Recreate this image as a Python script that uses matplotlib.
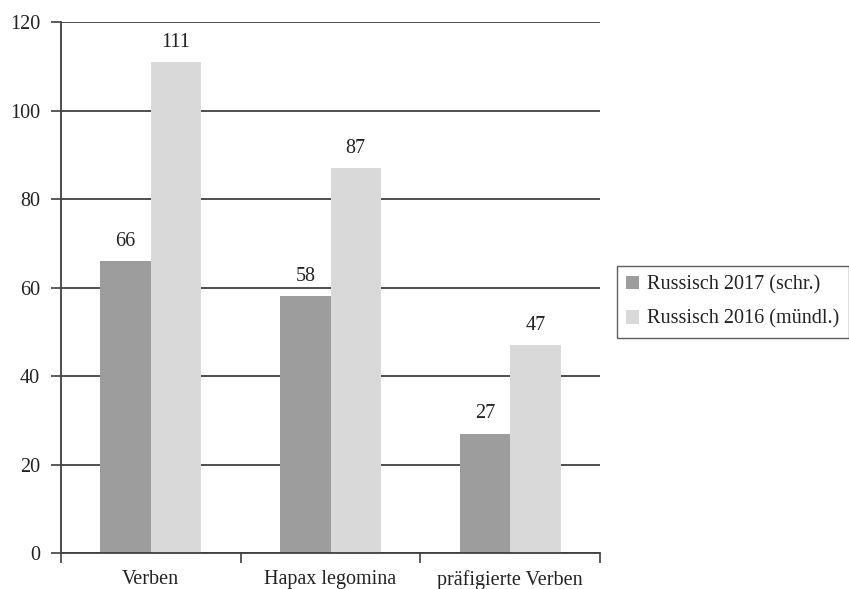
import numpy as np
import matplotlib.pyplot as plt

plt.rcParams['font.family'] = ['Liberation Serif', 'DejaVu Serif']

categories = ['Verben', 'Hapax legomina', 'präfigierte Verben']
series_names = ['Russisch 2017 (schr.)', 'Russisch 2016 (mündl.)']
russisch_2017 = [66, 58, 27]
russisch_2016 = [111, 87, 47]
colors = ['#9d9d9d', '#d9d9d9']

fs = 14.5
txt_c = '#222222'
grid_c = '#404040'

fig = plt.figure(figsize=(8.49, 5.89), dpi=100)
ax = fig.add_axes([0.0718, 0.0611, 0.635, 0.9015])

x = np.arange(len(categories))
w = 0.28

for i, (vals, name) in enumerate(zip([russisch_2017, russisch_2016], series_names)):
    pos = x + (i - 0.5) * w
    ax.bar(pos, vals, width=w, color=colors[i], label=name, zorder=2)
    for xp, v in zip(pos, vals):
        ax.text(xp, v + 2.3, str(v), ha='center', va='bottom', fontsize=fs,
                color=txt_c)

ax.set_xlim(-0.5, len(categories) - 0.5)
ax.set_ylim(0, 120)
ax.set_yticks(np.arange(0, 121, 20))
ax.yaxis.grid(True, color=grid_c, linewidth=1.3, zorder=0)
ax.set_axisbelow(True)

for s in ['top', 'right']:
    ax.spines[s].set_visible(False)
for s in ['left', 'bottom']:
    ax.spines[s].set_color(grid_c)
    ax.spines[s].set_linewidth(1.3)

# ticks at the category boundaries, labels centred between them
ax.set_xticks(np.arange(-0.5, len(categories), 1.0))
ax.set_xticklabels([])
ax.set_xticks(x, minor=True)
ax.set_xticklabels(categories, minor=True)
ax.tick_params(axis='x', which='major', length=7, width=1.2, color=grid_c)
ax.tick_params(axis='x', which='minor', length=0, pad=12, labelsize=fs,
               labelcolor=txt_c)
ax.tick_params(axis='y', length=7, width=1.2, color=grid_c, pad=8,
               labelsize=fs, labelcolor=txt_c)

leg = fig.legend(loc='center right', bbox_to_anchor=(0.9995, 0.487),
                 fontsize=fs, frameon=True, fancybox=False, handlelength=0.65,
                 handleheight=0.65, handletextpad=0.4, borderpad=0.45,
                 labelspacing=0.75, borderaxespad=0)
leg.get_frame().set_edgecolor('#333333')
leg.get_frame().set_linewidth(1.0)
for t in leg.get_texts():
    t.set_color(txt_c)

fig.savefig('out.png', dpi=100)
